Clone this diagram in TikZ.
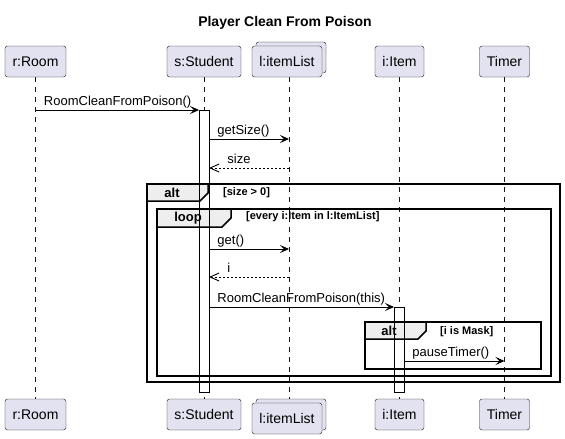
\documentclass[tikz,border=0pt]{standalone}
\usepackage{fontspec}
\setmainfont{Liberation Sans}
\usetikzlibrary{arrows.meta}
\definecolor{partfill}{HTML}{E2E2F0}
\definecolor{partline}{HTML}{181818}
\definecolor{tabfill}{HTML}{EEEEEE}
\begin{document}
\begin{tikzpicture}[x=1pt,y=-1pt,
  part/.style={draw=partline,fill=partfill,rounded corners=2.5pt,minimum height=31pt,inner sep=0pt,font=\fontsize{14}{16}\selectfont},
  life/.style={draw=partline,line width=0.5pt,dash pattern=on 5pt off 5pt},
  call/.style={-{Stealth[length=9pt,width=8pt,inset=4pt]},line width=0.9pt},
  reply/.style={-{Straight Barb[length=9pt,width=8pt]},line width=0.9pt,dash pattern=on 2pt off 2pt},
  msgtext/.style={font=\fontsize{13}{15}\selectfont,anchor=base west,inner sep=0pt},
  frame/.style={line width=1.5pt},
  tab/.style={fill=tabfill,line width=1.5pt},
  kw/.style={font=\bfseries\fontsize{13}{15}\selectfont,inner sep=0pt},
  guard/.style={font=\bfseries\fontsize{11}{13}\selectfont,anchor=west,inner sep=0pt}]
\useasboundingbox (0,0) rectangle (565,439);
\node[font=\bfseries\fontsize{14}{17}\selectfont] (title) at (285,23) {Player Clean From Poison};
%
% participants, top and bottom
\node[part,minimum width=61pt] (rTop) at (35.5,61.5) {r:Room};
\node[part,minimum width=74pt] (sTop) at (204,61.5) {s:Student};
\node[part,minimum width=70pt] (lTopBack) at (291,57.5) {};
\node[part,minimum width=70pt] (lTop) at (287,61.5) {l:itemList};
\node[part,minimum width=49pt] (iTop) at (399.5,61.5) {i:Item};
\node[part,minimum width=50pt] (tTop) at (504.5,61.5) {Timer};
%
\node[part,minimum width=61pt] (rBot) at (35.5,414.5) {r:Room};
\node[part,minimum width=74pt] (sBot) at (204,414.5) {s:Student};
\node[part,minimum width=70pt] (lBotBack) at (291,414.5) {};
\node[part,minimum width=70pt] (lBot) at (287,418.5) {l:itemList};
\node[part,minimum width=49pt] (iBot) at (399.5,414.5) {i:Item};
\node[part,minimum width=50pt] (tBot) at (504.5,414.5) {Timer};
%
% lifelines
\coordinate (lLine) at (289,0);
\draw[life] (rTop) -- (rBot);
\draw[life] (sTop) -- (sBot);
\draw[life] (lLine |- lTop.south) -- (lLine |- lBotBack.north);
\draw[life] (iTop) -- (iBot);
\draw[life] (tTop) -- (tBot);
%
% activations
\coordinate (sA1) at (199,110);
\coordinate (sA2) at (209,392);
\coordinate (iA1) at (394,307);
\coordinate (iA2) at (404,392);
\fill[white] (sA1) rectangle (sA2);
\fill[white] (iA1) rectangle (iA2);
%
% combined fragments
\draw[frame] (147,184) rectangle (560,382);
\draw[tab] (147,184) -- (208,184) -- (208,193) -- (200,201) -- (147,201) -- cycle;
\node[kw] (alt1) at (172,192.5) {alt};
\node[guard] (g1) at (223,193) {[size > 0]};
%
\draw[frame] (157,209) rectangle (551,376);
\draw[tab] (157,209) -- (231,209) -- (231,218) -- (222,227) -- (157,227) -- cycle;
\node[kw] (loop1) at (188,218) {loop};
\node[guard] (g2) at (246,217) {[every i:Item in l:ItemList]};
%
\draw[frame] (365,322) rectangle (541,369);
\draw[tab] (365,322) -- (426,322) -- (426,331) -- (418,339) -- (365,339) -- cycle;
\node[kw] (alt2) at (389,330.5) {alt};
\node[guard] (g3) at (440,331.5) {[i is Mask]};
%
\draw[line width=0.9pt] (sA1) rectangle (sA2);
\draw[line width=0.9pt] (iA1) rectangle (iA2);
%
% messages
\draw[call] (rTop.south |- sA1) -- (sA1)
  node[msgtext,pos=0,xshift=8pt,yshift=4.5pt] (m1) {RoomCleanFromPoison()};
\draw[call] (sA2 |- 0,139) -- (lLine |- 0,139)
  node[msgtext,pos=0,xshift=8pt,yshift=4.5pt] (m2) {getSize()};
\draw[reply] (lLine |- 0,168) -- (sA2 |- 0,168)
  node[msgtext,pos=1,xshift=18pt,yshift=4.5pt] (m3) {size};
\draw[call] (sA2 |- 0,249) -- (lLine |- 0,249)
  node[msgtext,pos=0,xshift=8pt,yshift=4.5pt] (m4) {get()};
\draw[reply] (lLine |- 0,277) -- (sA2 |- 0,277)
  node[msgtext,pos=1,xshift=18pt,yshift=4.5pt] (m5) {i};
\draw[call] (sA2 |- iA1) -- (iA1)
  node[msgtext,pos=0,xshift=8pt,yshift=4.5pt] (m6) {RoomCleanFromPoison(this)};
\draw[call] (iA2 |- 0,361) -- (tTop.south |- 0,361)
  node[msgtext,pos=0,xshift=8pt,yshift=4.5pt] (m7) {pauseTimer()};
\end{tikzpicture}
\end{document}
